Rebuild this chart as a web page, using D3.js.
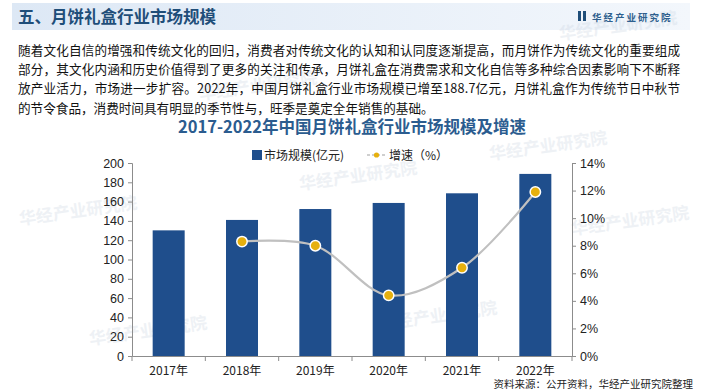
<!DOCTYPE html>
<html><head><meta charset="utf-8">
<script src="https://cdn.jsdelivr.net/npm/d3@7/dist/d3.min.js"></script>
<style>html,body{margin:0;padding:0;background:#fff;}svg{display:block;}</style>
</head><body>
<svg id="c" width="705" height="392"></svg>
<script>
const categories = ["2017年","2018年","2019年","2020年","2021年","2022年"];
const marketSize = [130.2, 141.0, 152.3, 158.6, 168.6, 188.7];
const growth = [null, 8.3, 8.0, 4.4, 6.4, 11.9];
const leftTicks = [0,20,40,60,80,100,120,140,160,180,200];
const rightTicks = [0,2,4,6,8,10,12,14];
const heading = "五、月饼礼盒行业市场规模";
const brand = "华经产业研究院";
const paragraph = [
 "随着文化自信的增强和传统文化的回归，消费者对传统文化的认知和认同度逐渐提高，而月饼作为传统文化的重要组成",
 "部分，其文化内涵和历史价值得到了更多的关注和传承，月饼礼盒在消费需求和文化自信等多种综合因素影响下不断释",
 "放产业活力，市场进一步扩容。2022年，中国月饼礼盒行业市场规模已增至188.7亿元，月饼礼盒作为传统节日中秋节",
 "的节令食品，消费时间具有明显的季节性与，旺季是奠定全年销售的基础。"
];
const chartTitle = "2017-2022年中国月饼礼盒行业市场规模及增速";
const legendLabels = ["市场规模(亿元)", "增速（%）"];
const source = "资料来源：公开资料，华经产业研究院整理";

const svg = d3.select("#c");
const cjk = "'Noto Sans CJK SC','Noto Sans',sans-serif";
const lat = "'Liberation Sans',Arial,sans-serif";

// header band
const defs = svg.append("defs");
const g1 = defs.append("linearGradient").attr("id","hb").attr("x1","0").attr("x2","1");
g1.append("stop").attr("offset","0").attr("stop-color","#dde8f5");
g1.append("stop").attr("offset","1").attr("stop-color","#f3f7fc");
svg.append("rect").attr("x",12).attr("y",3).attr("width",678).attr("height",27).attr("fill","url(#hb)");

// watermarks
const wm = [[560,40],[300,190],[20,225],[490,160],[380,330],[90,345],[572,235],[200,100]];
svg.append("g").selectAll("text").data(wm).join("text")
  .attr("x",d=>d[0]).attr("y",d=>d[1]).attr("transform",d=>`rotate(-8,${d[0]},${d[1]})`)
  .attr("font-family",cjk).attr("font-weight","bold").attr("font-size",17)
  .attr("fill","#c8d3e0").attr("opacity",0.3).text(brand);

svg.append("text").attr("x",18).attr("y",23).attr("font-family",cjk).attr("font-weight","bold")
  .attr("font-size",16.5).attr("fill","#1f4e79").text(heading);
// brand logo
svg.append("rect").attr("x",578).attr("y",11).attr("width",3).attr("height",10).attr("fill","#1f4e79");
svg.append("rect").attr("x",583).attr("y",11).attr("width",3).attr("height",10).attr("fill","#1f4e79");
svg.append("text").attr("x",592).attr("y",20.5).attr("font-family",cjk).attr("font-weight","bold")
  .attr("font-size",9.5).attr("letter-spacing",2).attr("fill","#2e5f8e").text(brand);

// paragraph
svg.append("g").selectAll("text").data(paragraph).join("text")
  .attr("x",18).attr("y",(d,i)=>55+i*19.2)
  .attr("font-family",cjk).attr("font-size",12.6).attr("fill","#111")
  .each(function(d,i){ if(i<3){ d3.select(this).attr("textLength",662).attr("lengthAdjust","spacing"); } })
  .text(d=>d);

// title
svg.append("text").attr("x",352).attr("y",133).attr("text-anchor","middle")
  .attr("font-family",cjk).attr("font-weight","bold").attr("font-size",16.5).attr("fill","#2b5c8f").text(chartTitle);

// scales
const xb = d3.scaleBand().domain(categories).range([132,572]);
const yL = d3.scaleLinear().domain([0,200]).range([356,163]);
const yR = d3.scaleLinear().domain([0,14]).range([356,163]);

// bars
svg.append("g").selectAll("rect").data(marketSize).join("rect")
  .attr("x",(d,i)=>xb(categories[i])+xb.bandwidth()/2-16).attr("width",32)
  .attr("y",d=>yL(d)).attr("height",d=>yL(0)-yL(d)).attr("fill","#1f4e8c");

// axes
const axCol = "#8c8c8c";
const la = svg.append("g").attr("transform","translate(132,0)")
  .call(d3.axisLeft(yL).tickValues(leftTicks).tickSize(4).tickPadding(4));
const ra = svg.append("g").attr("transform","translate(572,0)")
  .call(d3.axisRight(yR).tickValues(rightTicks).tickSize(4).tickPadding(4).tickFormat(d=>d+"%"));
[la,ra].forEach(a=>{
  a.select(".domain").attr("stroke",axCol);
  a.selectAll(".tick line").attr("stroke",axCol);
  a.selectAll("text").attr("font-family",lat).attr("font-size",12.5).attr("fill","#222");
});
// x axis
const xa = svg.append("g").attr("transform","translate(0,356)")
  .call(d3.axisBottom(xb).tickSize(0).tickPadding(10));
xa.select(".domain").attr("stroke",axCol);
xa.selectAll("text").attr("font-family",cjk).attr("font-size",12).attr("fill","#222");
const bounds = categories.map(c=>xb(c)).concat([572]);
xa.append("g").selectAll("line").data(bounds).join("line")
  .attr("x1",d=>d).attr("x2",d=>d).attr("y1",0).attr("y2",5).attr("stroke",axCol);

// line
const pts = growth.map((v,i)=>[xb(categories[i])+xb.bandwidth()/2, v]).filter(p=>p[1]!=null);
const line = d3.line().x(p=>p[0]).y(p=>yR(p[1])).curve(d3.curveCatmullRom.alpha(0.5));
svg.append("path").attr("d",line(pts)).attr("fill","none").attr("stroke","#c0c0c0").attr("stroke-width",2.2);
svg.append("g").selectAll("circle").data(pts).join("circle")
  .attr("cx",p=>p[0]).attr("cy",p=>yR(p[1])).attr("r",5.2)
  .attr("fill","#e6b00e").attr("stroke","#fff").attr("stroke-width",1.5);

// legend
svg.append("rect").attr("x",252).attr("y",150).attr("width",10).attr("height",10).attr("fill","#1f4e8c");
svg.append("text").attr("x",264).attr("y",159.5).attr("font-family",cjk).attr("font-size",12).attr("fill","#222").text(legendLabels[0]);
svg.append("line").attr("x1",367).attr("x2",386).attr("y1",155).attr("y2",155).attr("stroke","#c0c0c0").attr("stroke-width",1.5).attr("stroke-dasharray","3,2");
svg.append("circle").attr("cx",376.5).attr("cy",155).attr("r",2.6).attr("fill","#e6b00e");
svg.append("text").attr("x",389).attr("y",159.5).attr("font-family",cjk).attr("font-size",12).attr("fill","#222").text(legendLabels[1]);

// source
svg.append("text").attr("x",693).attr("y",388).attr("text-anchor","end")
  .attr("font-family",cjk).attr("font-size",10.5).attr("fill","#222").text(source);
</script>
</body></html>
